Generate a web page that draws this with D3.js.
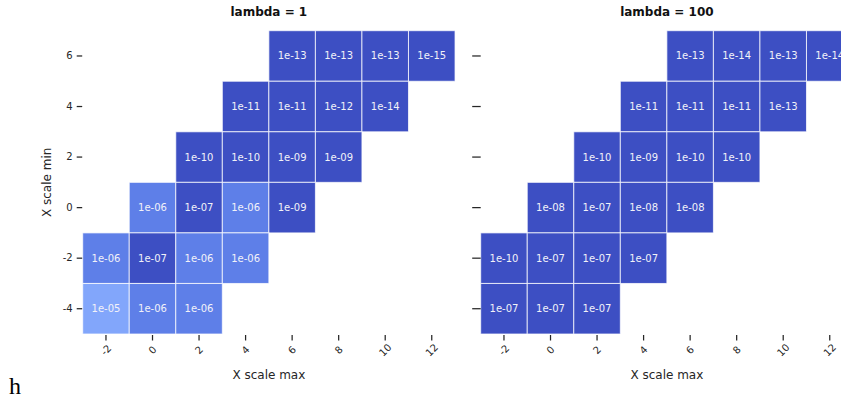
<!DOCTYPE html>
<html>
<head>
<meta charset="utf-8">
<script src="https://cdn.jsdelivr.net/npm/d3@7/dist/d3.min.js"></script>
<style>
  html, body { margin: 0; padding: 0; background: #fff; }
  svg { display: block; font-family: "DejaVu Sans", sans-serif; }
</style>
</head>
<body>
<svg id="chart" width="841" height="398"></svg>
<script>
// ---- data ----
const xMaxValues = [-2, 0, 2, 4, 6, 8, 10, 12];
const xMinValues = [6, 4, 2, 0, -2, -4];
const xTickLabels = ["-2", "0", "2", "4", "6", "8", "10", "12"];
const yTickLabels = ["6", "4", "2", "0", "-2", "-4"];
const panelTitles = ["lambda = 1", "lambda = 100"];

// columns (X scale max) present in each row (X scale min)
const rowColumns = {
  "6": [6, 8, 10, 12],
  "4": [4, 6, 8, 10],
  "2": [2, 4, 6, 8],
  "0": [0, 2, 4, 6],
  "-2": [-2, 0, 2, 4],
  "-4": [-2, 0, 2]
};
const lambda1Values = {
  "6": [1e-13, 1e-13, 1e-13, 1e-15],
  "4": [1e-11, 1e-11, 1e-12, 1e-14],
  "2": [1e-10, 1e-10, 1e-09, 1e-09],
  "0": [1e-06, 1e-07, 1e-06, 1e-09],
  "-2": [1e-06, 1e-07, 1e-06, 1e-06],
  "-4": [1e-05, 1e-06, 1e-06]
};
const lambda100Values = {
  "6": [1e-13, 1e-14, 1e-13, 1e-14],
  "4": [1e-11, 1e-11, 1e-11, 1e-13],
  "2": [1e-10, 1e-09, 1e-10, 1e-10],
  "0": [1e-08, 1e-07, 1e-08, 1e-08],
  "-2": [1e-10, 1e-07, 1e-07, 1e-07],
  "-4": [1e-07, 1e-07, 1e-07]
};

function toCells(values) {
  const out = [];
  xMinValues.forEach(ymin => {
    const cols = rowColumns[String(ymin)];
    const vals = values[String(ymin)];
    cols.forEach((xm, i) => out.push({ xmin: ymin, xmax: xm, v: vals[i] }));
  });
  return out;
}

const panels = [
  { title: panelTitles[0], cells: toCells(lambda1Values), x0: 82.7, showY: true },
  { title: panelTitles[1], cells: toCells(lambda100Values), x0: 480.7, showY: false }
];

const cellW = 46.54;
const gridTop = 30.7, gridBottom = 334;
const ink = "#262626";

const color = d3.scaleLog()
  .domain([1e-7, 1e-6, 1e-5])
  .range(["#3d4fc3", "#5e7fe8", "#82a6fb"])
  .clamp(true);

const fmt = v => {
  const e = Math.round(Math.log10(v));
  const s = Math.abs(e) < 10 ? "0" + Math.abs(e) : String(Math.abs(e));
  return "1e" + (e < 0 ? "-" : "+") + s;
};

const svg = d3.select("#chart");

panels.forEach(p => {
  const x = d3.scaleBand().domain(xMaxValues).range([p.x0, p.x0 + cellW * xMaxValues.length]);
  const y = d3.scaleBand().domain(xMinValues).range([gridTop, gridBottom]);
  const g = svg.append("g");

  g.selectAll("rect.cell").data(p.cells).join("rect")
    .attr("class", "cell")
    .attr("x", d => x(d.xmax))
    .attr("y", d => y(d.xmin))
    .attr("width", x.bandwidth())
    .attr("height", y.bandwidth())
    .attr("fill", d => color(d.v))
    .attr("stroke", "#ffffff")
    .attr("stroke-opacity", 0.75)
    .attr("stroke-width", 1);

  g.selectAll("text.annot").data(p.cells).join("text")
    .attr("class", "annot")
    .attr("x", d => x(d.xmax) + x.bandwidth() / 2)
    .attr("y", d => y(d.xmin) + y.bandwidth() / 2)
    .attr("text-anchor", "middle")
    .attr("dominant-baseline", "central")
    .attr("font-size", 10)
    .attr("fill", "#f2f2f8")
    .text(d => fmt(d.v));

  // x axis
  const xa = g.append("g").attr("transform", `translate(0,${gridBottom})`)
    .call(d3.axisBottom(x).tickSize(6).tickPadding(3).tickFormat((d, i) => xTickLabels[i]));
  xa.attr("font-family", null).attr("font-size", null);
  xa.select(".domain").remove();
  xa.selectAll(".tick line").attr("stroke", ink).attr("stroke-width", 1.25).attr("y1", 1).attr("y2", 6.5);
  xa.selectAll(".tick text")
    .attr("font-size", 10)
    .attr("fill", ink)
    .attr("text-anchor", "middle")
    .attr("dy", null)
    .attr("dominant-baseline", "central")
    .attr("y", 16)
    .attr("transform", "rotate(-45,0,16)");

  // y axis
  const ya = g.append("g").attr("transform", `translate(${p.x0},0)`)
    .call(d3.axisLeft(y).tickSize(6).tickPadding(4).tickFormat((d, i) => p.showY ? yTickLabels[i] : ""));
  ya.attr("font-family", null).attr("font-size", null);
  ya.select(".domain").remove();
  ya.selectAll(".tick line").attr("stroke", ink).attr("stroke-width", 1.25).attr("x2", p.showY ? -6 : -8.5).attr("x1", p.showY ? -0.5 : 0);
  ya.selectAll(".tick text").attr("font-size", 10).attr("fill", ink);

  const cx = p.x0 + cellW * xMaxValues.length / 2;
  g.append("text")
    .attr("x", cx).attr("y", 12)
    .attr("text-anchor", "middle").attr("dominant-baseline", "central")
    .attr("font-size", 12).attr("font-weight", "bold").attr("fill", "#111")
    .text(p.title);

  g.append("text")
    .attr("x", cx).attr("y", 375)
    .attr("text-anchor", "middle").attr("dominant-baseline", "central")
    .attr("font-size", 12).attr("fill", ink)
    .text("X scale max");

  if (p.showY) {
    g.append("text")
      .attr("transform", `translate(47,${(gridTop + gridBottom) / 2}) rotate(-90)`)
      .attr("text-anchor", "middle").attr("dominant-baseline", "central")
      .attr("font-size", 12).attr("fill", ink)
      .text("X scale min");
  }
});

svg.append("text")
  .attr("x", 9).attr("y", 394)
  .style("font-family", "'Liberation Serif', 'DejaVu Serif', serif")
  .attr("font-size", 24).attr("fill", "#000")
  .text("h");
</script>
</body>
</html>
